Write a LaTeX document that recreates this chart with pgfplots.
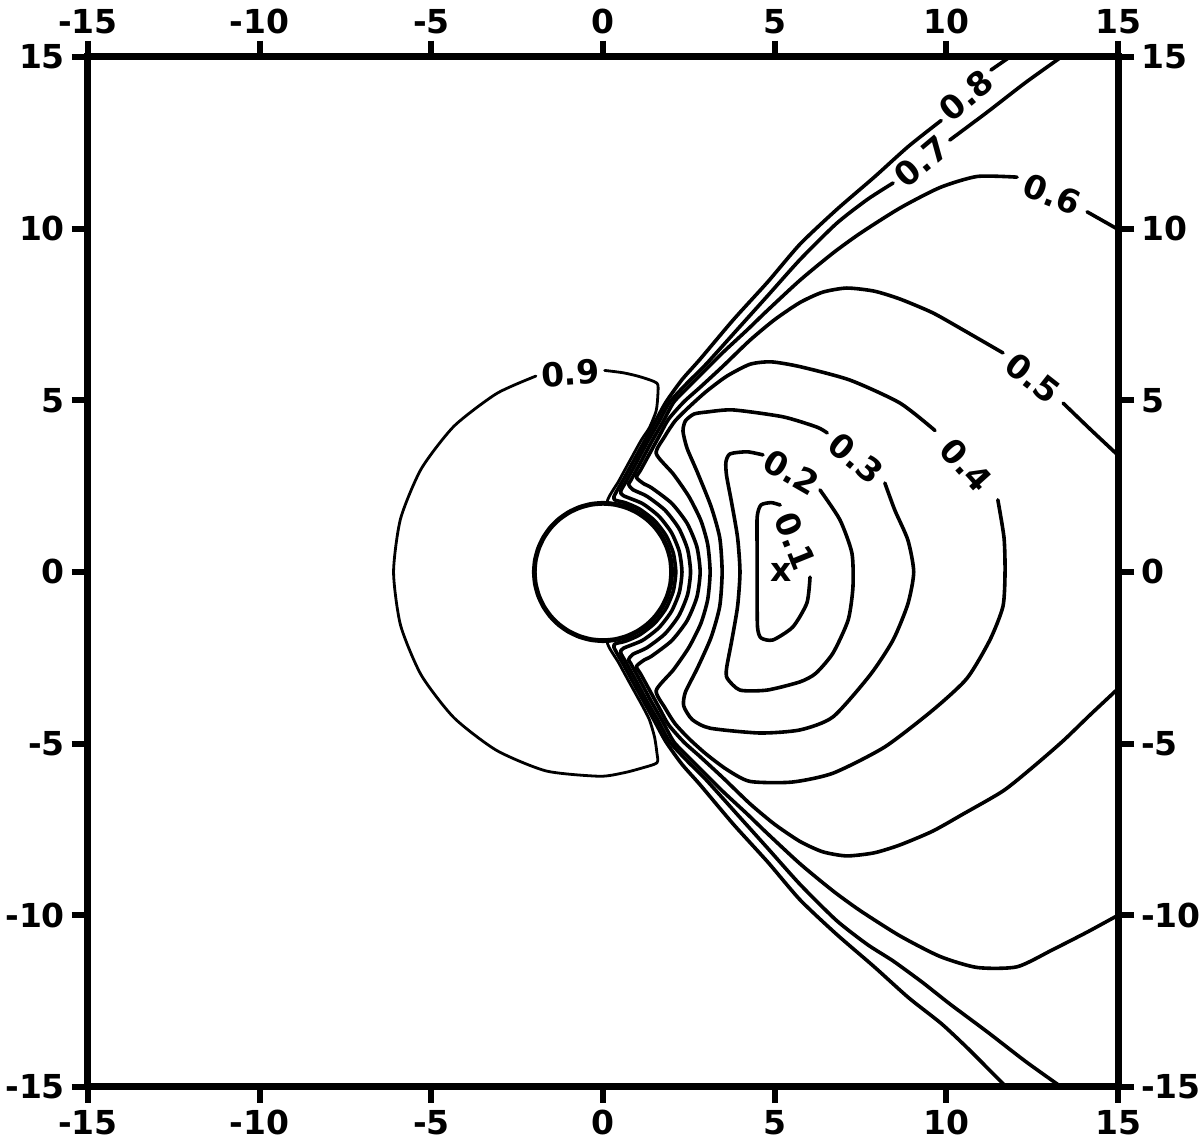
\documentclass[border=0pt]{standalone}
\usepackage{fontspec}
\setmainfont{DejaVu Sans}
\usepackage{pgfplots}
\pgfplotsset{compat=1.18}
\usetikzlibrary{calc}
\tikzset{lab/.style={font=\fontsize{16.5}{16.5}\selectfont\bfseries, inner sep=0pt}}
\begin{document}
\begin{tikzpicture}
\pgfplotsset{
  myaxis/.style={
    scale only axis, width=515pt, height=515pt,
    xmin=-15,xmax=15,ymin=-15,ymax=15,
    xtick={-15,-10,-5,0,5,10,15}, ytick={-15,-10,-5,0,5,10,15},
    xticklabels={-15,-10,-5,0,5,10,15}, yticklabels={-15,-10,-5,0,5,10,15},
    tick align=outside, major tick length=8pt,
    tick style={black, line width=3pt},
    axis line style={line width=3.5pt},
    ticklabel style={font=\fontsize{16.5}{16.5}\selectfont\bfseries},
  },
  cl/.style={black, line width=1.8pt, line join=round, line cap=round, smooth, tension=0.4},
}
\begin{axis}[myaxis, xticklabel pos=lower, yticklabel pos=left, xtick pos=both, ytick pos=both]
% cylinder
\addplot[cl, line width=2.4pt] coordinates {(2,0) (1.970,0.347) (1.879,0.684) (1.732,1) (1.532,1.286) (1.286,1.532) (1,1.732) (0.684,1.879) (0.347,1.970) (0,2) (-0.347,1.970) (-0.684,1.879) (-1,1.732) (-1.286,1.532) (-1.532,1.286) (-1.732,1) (-1.879,0.684) (-1.970,0.347) (-2,0) (-1.970,-0.347) (-1.879,-0.684) (-1.732,-1) (-1.532,-1.286) (-1.286,-1.532) (-1,-1.732) (-0.684,-1.879) (-0.347,-1.970) (0,-2) (0.347,-1.970) (0.684,-1.879) (1,-1.732) (1.286,-1.532) (1.532,-1.286) (1.732,-1) (1.879,-0.684) (1.970,-0.347) (2,0)};
% 0.9
\addplot[cl, line width=1.4pt] coordinates {(0.05,5.87) (0.6,5.8) (1.1,5.68) (1.57,5.5) (1.6,5.2) (1.55,4.7) (1.35,4.2) (1.12,3.85) (0.76,3.2) (0.46,2.65) (0.13,2.05) (0.69,1.92) (1.3,1.56) (1.76,1.0) (1.98,0.35) (2.02,0) (1.98,-0.35) (1.76,-1.0) (1.3,-1.56) (0.69,-1.92) (0.13,-2.05) (0.46,-2.65) (0.76,-3.2) (1.12,-3.85) (1.35,-4.3) (1.5,-4.8) (1.57,-5.27) (1.57,-5.56) (1.1,-5.72) (0.6,-5.85) (-0.1,-5.95) (-1.653,-5.796) (-3.1,-5.196) (-4.343,-4.243) (-5.296,-3.0) (-5.896,-1.553) (-6.1,0) (-5.896,1.553) (-5.296,3.0) (-4.343,4.243) (-3.1,5.196) (-1.954,5.706)};
% 0.8
\addplot[cl] coordinates {(11.3,14.62) (11.85,15.0) (12.0,15.1)};
\addplot[cl] coordinates {(9.85,13.15) (8.9,12.4) (7.9,11.5) (6.8,10.55) (5.74,9.55) (4.8,8.45) (3.8,7.35) (2.83,6.2) (2.3,5.6) (1.835,4.95) (1.505,4.35) (1.23,3.85) (0.925,3.3) (0.625,2.75) (0.32,2.2) (0.368,2.088) (0.655,2.016) (1.06,1.836) (1.499,1.499) (1.836,1.06) (2.048,0.549) (2.12,0) (2.048,-0.549) (1.836,-1.06) (1.499,-1.499) (1.06,-1.836) (0.655,-2.016) (0.368,-2.088) (0.32,-2.2) (0.625,-2.75) (0.925,-3.3) (1.23,-3.85) (1.505,-4.35) (1.835,-4.95) (2.3,-5.6) (2.83,-6.2) (3.8,-7.35) (4.8,-8.45) (5.74,-9.55) (6.8,-10.55) (7.9,-11.5) (8.9,-12.4) (9.85,-13.15) (10.6,-13.85) (11.2,-14.45) (11.75,-15.0) (11.9,-15.15)};
% 0.7
\addplot[cl] coordinates {(10.1,12.58) (11.2,13.4) (12.3,14.25) (13.35,15.0) (13.5,15.1)};
\addplot[cl] coordinates {(8.45,11.33) (7.7,10.85) (6.8,10.15) (5.74,9.1) (4.8,8.05) (3.9,7.05) (3.0,6.05) (2.45,5.5) (1.945,4.95) (1.615,4.35) (1.3,3.8) (0.98,3.2) (0.68,2.65) (0.515,2.35) (0.595,2.222) (1.15,1.992) (1.626,1.626) (1.992,1.15) (2.222,0.596) (2.3,0) (2.222,-0.596) (1.992,-1.15) (1.626,-1.626) (1.15,-1.992) (0.595,-2.222) (0.515,-2.35) (0.68,-2.65) (0.98,-3.2) (1.3,-3.8) (1.615,-4.35) (1.945,-4.95) (2.45,-5.5) (3.0,-6.05) (3.9,-7.05) (4.8,-8.05) (5.74,-9.1) (6.8,-10.15) (7.7,-10.85) (8.45,-11.33) (9.3,-11.95) (10.1,-12.58) (11.2,-13.4) (12.3,-14.25) (13.35,-15.0) (13.5,-15.1)};
% 0.6
\addplot[cl] coordinates {(14.1,10.49) (15,9.98) (15.2,9.87)};
\addplot[cl] coordinates {(12.06,11.5) (10.9,11.52) (9.82,11.2) (8.65,10.6) (7.5,9.87) (6.7,9.29) (5.74,8.5) (4.77,7.6) (4.2,7.05) (3.5,6.4) (2.9,5.8) (2.55,5.45) (2.065,4.95) (1.735,4.35) (1.42,3.8) (1.1,3.2) (0.8,2.65) (0.745,2.55) (0.872,2.396) (1.275,2.208) (1.803,1.803) (2.208,1.275) (2.463,0.66) (2.55,0) (2.463,-0.66) (2.208,-1.275) (1.803,-1.803) (1.275,-2.208) (0.872,-2.396) (0.745,-2.55) (0.8,-2.65) (1.1,-3.2) (1.42,-3.8) (1.735,-4.35) (2.065,-4.95) (2.55,-5.45) (2.9,-5.8) (3.5,-6.4) (4.2,-7.05) (4.77,-7.6) (5.74,-8.5) (6.7,-9.29) (7.5,-9.87) (8.65,-10.6) (9.82,-11.2) (10.9,-11.52) (12.06,-11.5) (13.1,-11.0) (14.1,-10.49) (15,-10.0) (15.2,-9.9)};
% 0.5
\addplot[cl] coordinates {(13.4,4.92) (14.2,4.15) (15,3.4) (15.2,3.2)};
\addplot[cl] coordinates {(11.65,6.38) (10.49,7.05) (9.6,7.55) (8.65,7.95) (7.9,8.18) (7.1,8.27) (6.4,8.15) (5.74,7.85) (5.0,7.35) (4.28,6.75) (3.5,6.0) (2.83,5.38) (2.35,4.95) (1.91,4.45) (1.66,4.0) (1.36,3.45) (1.085,2.95) (0.975,2.75) (1.196,2.565) (1.415,2.451) (2.001,2.001) (2.451,1.415) (2.734,0.733) (2.83,0) (2.734,-0.733) (2.451,-1.415) (2.001,-2.001) (1.415,-2.451) (1.196,-2.565) (0.975,-2.75) (1.085,-2.95) (1.36,-3.45) (1.66,-4.0) (1.91,-4.45) (2.35,-4.95) (2.83,-5.38) (3.5,-6.0) (4.28,-6.75) (5.0,-7.35) (5.74,-7.85) (6.4,-8.15) (7.1,-8.27) (7.9,-8.18) (8.65,-7.95) (9.6,-7.55) (10.49,-7.05) (11.65,-6.38) (12.5,-5.7) (13.4,-4.92) (14.2,-4.15) (15,-3.4) (15.2,-3.2)};
% 0.4
\addplot[cl] coordinates {(11.5,2.1) (11.68,1.0) (11.71,0) (11.65,-1.0) (11.27,-1.98) (10.6,-3.1) (9.61,-4.02) (8.2,-5.1) (6.7,-5.86) (5.5,-6.12) (4.28,-6.1) (3.6,-5.75) (3.0,-5.3) (2.5,-4.85) (2.1,-4.42) (1.8,-3.95) (1.55,-3.45) (2.05,-2.85) (2.5,-2.2) (2.85,-1.5) (3.05,-0.8) (3.12,0) (3.05,0.8) (2.85,1.5) (2.5,2.2) (2.05,2.85) (1.55,3.45) (1.8,3.95) (2.1,4.4) (2.5,4.8) (3.0,5.25) (3.6,5.7) (4.28,6.05) (4.9,6.12) (5.74,5.98) (7.19,5.59) (8.65,4.92) (9.67,4.12)};
% 0.3
\addplot[cl] coordinates {(8.21,2.59) (8.5,1.8) (8.88,0.93) (9.05,0) (8.88,-0.93) (8.45,-1.98) (7.78,-3.0) (6.7,-4.22) (5.74,-4.6) (4.57,-4.69) (3.12,-4.55) (2.6,-4.3) (2.35,-3.9) (2.4,-3.5) (2.75,-2.8) (3.15,-1.9) (3.4,-1.0) (3.47,0) (3.4,1.0) (3.15,1.9) (2.75,2.9) (2.45,3.6) (2.33,4.1) (2.4,4.4) (2.65,4.6) (3.03,4.66) (3.79,4.72) (5.24,4.52) (6.23,4.22) (6.53,4.05)};
% 0.2
\addplot[cl] coordinates {(6.32,2.39) (6.9,1.52) (7.25,0.55) (7.28,-0.44) (7.14,-1.4) (6.7,-2.36) (6.2,-2.95) (5.74,-3.2) (4.78,-3.44) (3.99,-3.44) (3.62,-3.1) (3.6,-2.8) (3.75,-2.0) (3.92,-1.0) (3.99,0) (3.92,1.0) (3.75,2.0) (3.6,2.8) (3.58,3.2) (3.7,3.44) (4.2,3.5) (4.66,3.41)};
% 0.1
\addplot[cl] coordinates {(6.03,-0.15) (5.94,-0.9) (5.53,-1.6) (4.95,-1.98) (4.6,-1.92) (4.5,-1.6) (4.49,-0.5) (4.49,0.5) (4.49,1.6) (4.6,1.95) (4.9,2.02) (5.16,1.95)};
% labels
\node[lab, rotate=4] at (axis cs:-0.95,5.79) {0.9};
\node[lab, rotate=40] at (axis cs:10.58,13.88) {0.8};
\node[lab, rotate=40] at (axis cs:9.28,11.96) {0.7};
\node[lab, rotate=-22] at (axis cs:13.08,11.0) {0.6};
\node[lab, rotate=-38] at (axis cs:12.53,5.65) {0.5};
\node[lab, rotate=-48] at (axis cs:10.58,3.11) {0.4};
\node[lab, rotate=-40] at (axis cs:7.37,3.32) {0.3};
\node[lab, rotate=-30] at (axis cs:5.49,2.9) {0.2};
\node[lab, rotate=-68] at (axis cs:5.6,0.9) {0.1};
\node[lab] at (axis cs:5.2,0) {x};
\end{axis}
\begin{axis}[myaxis, xticklabel pos=upper, yticklabel pos=right, xtick pos=both, ytick pos=both]
\end{axis}
\pgfresetboundingbox
\path ($(current axis.south west)+(-44pt,-27.5pt)$) rectangle ($(current axis.north east)+(41pt,28.5pt)$);
\end{tikzpicture}
\end{document}
